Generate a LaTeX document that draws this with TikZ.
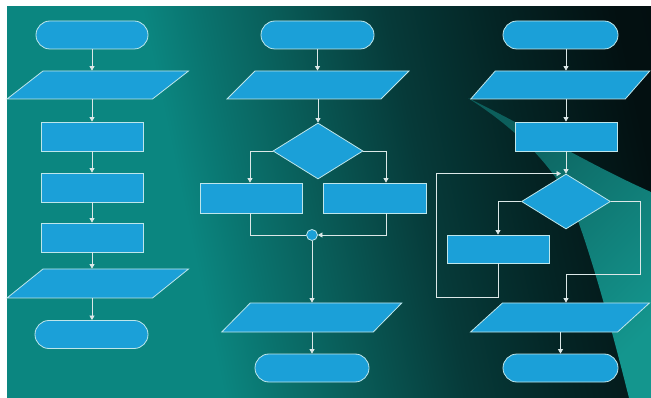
\documentclass[tikz,border=0pt]{standalone}
\usetikzlibrary{shapes.geometric,arrows.meta,calc}
\definecolor{bgA}{RGB}{11,134,128}
\definecolor{bgB}{RGB}{10,114,109}
\definecolor{bgC}{RGB}{9,92,88}
\definecolor{bgD}{RGB}{6,58,57}
\definecolor{bgE}{RGB}{4,36,36}
\definecolor{bgF}{RGB}{3,16,17}
\definecolor{bgG}{RGB}{3,10,12}
\definecolor{wA}{RGB}{12,95,92}
\definecolor{wB}{RGB}{20,150,142}
\definecolor{boxfill}{RGB}{27,160,216}
\definecolor{boxline}{RGB}{190,230,235}
\definecolor{linec}{RGB}{220,232,232}
\pgfdeclarehorizontalshading{bgh}{100bp}{color(0bp)=(bgA); color(38bp)=(bgA); color(43bp)=(bgB); color(49bp)=(bgC); color(58bp)=(bgD); color(67bp)=(bgE); color(77bp)=(bgF); color(100bp)=(bgG)}
\begin{document}
\begin{tikzpicture}[x=1pt,y=-1pt,
  shapebase/.style={draw=boxline, fill=boxfill, line width=0.8pt, inner sep=0pt},
  term/.style={shapebase, rectangle, rounded corners=14pt, minimum height=28pt, minimum width=#1},
  box/.style={shapebase, rectangle, minimum height=29pt, minimum width=#1},
  para/.style n args={3}{shapebase, rectangle, minimum width=#1, minimum height=#2, xslant=#3},
  dec/.style n args={2}{shapebase, diamond, minimum width=#1, minimum height=#2},
  junc/.style={shapebase, circle, minimum size=11pt},
  arr/.style={draw=linec, line width=0.7pt, -{Triangle[length=4.5pt,width=5pt]}},
  ln/.style={draw=linec, line width=0.7pt}]
\useasboundingbox (0,0) rectangle (651,398);
\fill[white] (0,0) rectangle (651,398);
\begin{scope}
  \clip (7,7) rectangle (651,398);
  \shade[shading=bgh, shading angle=12] (7,7) rectangle (651,398);
  \shade[top color=wA, bottom color=wB, shading angle=45]
    (468,98) .. controls (530,128) and (590,165) .. (651,192) -- (651,398) -- (629,398)
    .. controls (612,330) and (590,250) .. (572,205)
    .. controls (550,160) and (510,125) .. (468,98) -- cycle;
\end{scope}

% column 1
\node[term=112pt] (t1) at (92,35) {};
\node[para={145.5pt}{28pt}{1.286}] (p1) at (97.75,85) {};
\node[box=102pt] (r1) at (92,136.5) {};
\node[box=102pt] (r2) at (92,187.5) {};
\node[box=102pt] (r3) at (92,237.5) {};
\node[para={145.5pt}{29pt}{1.241}] (p2) at (97.75,283.5) {};
\node[term=113pt] (t2) at (91.5,334.5) {};

% column 2
\node[term=113pt] (t3) at (317.5,35) {};
\node[para={154pt}{28pt}{1.0}] (p3) at (318,85) {};
\node[dec={90pt}{56pt}] (d1) at (318,151) {};
\node[box=102pt, minimum height=30pt] (r4) at (251,198) {};
\node[box=103pt, minimum height=30pt] (r5) at (374.5,198) {};
\node[junc] (c1) at (312,235) {};
\node[para={151.5pt}{29pt}{0.983}] (p4) at (311.75,317.5) {};
\node[term=114pt] (t4) at (312,368) {};
\coordinate (J1) at (250,151);
\coordinate (J2) at (386,151);

% column 3
\node[term=115pt] (t5) at (560.5,35) {};
\node[para={154.5pt}{28pt}{0.875}] (p5) at (560.25,85) {};
\node[box=102pt] (r6) at (566,136.5) {};
\node[dec={89pt}{55pt}] (d2) at (566,201.5) {};
\node[box=102pt, minimum height=28pt] (r7) at (498,249) {};
\node[para={147pt}{29pt}{1.10}] (p6) at (560,317.5) {};
\node[term=115pt] (t6) at (560.5,368) {};
\coordinate (L1) at (436,297);
\coordinate (R1) at (640,274);

% connectors column 1
\draw[arr] (t1.south) -- (t1.south |- p1.north);
\draw[arr] (r1.north |- p1.south) -- (r1.north);
\draw[arr] (r1.south) -- (r2.north);
\draw[arr] (r2.south) -- (r3.north);
\draw[arr] (r3.south) -- (r3.south |- p2.north);
\draw[arr] (r3.south |- p2.south) -- (r3.south |- t2.north);

% connectors column 2
\draw[arr] (t3.south) -- (t3.south |- p3.north);
\draw[arr] (d1.north |- p3.south) -- (d1.north);
\draw[arr] (d1.west) -- (J1) -- (J1 |- r4.north);
\draw[arr] (d1.east) -- (J2) -- (J2 |- r5.north);
\draw[ln] (J1 |- r4.south) |- (c1.west);
\draw[arr] (J2 |- r5.south) |- (c1.east);
\draw[arr] (c1.south) -- (c1.south |- p4.north);
\draw[arr] (c1.south |- p4.south) -- (c1.south |- t4.north);

% connectors column 3
\draw[arr] (r6.north |- t5.south) -- (r6.north |- p5.north);
\draw[arr] (r6.north |- p5.south) -- (r6.north);
\draw[arr] (r6.south) -- (d2.north);
\draw[arr] (d2.west) -| (r7.north);
\draw[arr, shorten >=5pt] (r7.south) |- (L1) |- (d2.north);
\draw[arr] (d2.east) -| (R1) -| (d2.south |- p6.north);
\draw[arr] (t6.north |- p6.south) -- (t6.north);
\end{tikzpicture}
\end{document}
